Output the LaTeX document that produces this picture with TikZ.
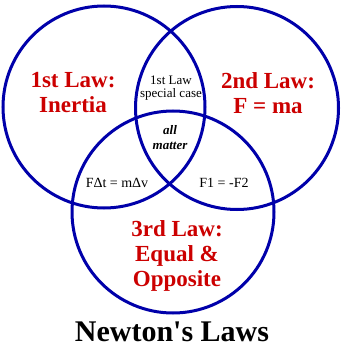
\documentclass[tikz,border=0pt]{standalone}
\usepackage{fontspec}
\setmainfont{Liberation Serif}
\begin{document}
\begin{tikzpicture}[x=1pt,y=-1pt,
  ring/.style={draw={rgb,255:red,0;green,0;blue,170},line width=3pt},
  law/.style={text={rgb,255:red,204;green,0;blue,0},font=\fontsize{23}{25}\selectfont\bfseries,align=center},
  small/.style={font=\fontsize{13}{14.5}\selectfont,align=center},
  eqn/.style={font=\fontsize{14}{16}\selectfont},
  note/.style={font=\fontsize{13}{15}\selectfont\bfseries\itshape,align=center}]
\useasboundingbox (0,0) rectangle (343,350);
\fill[white] (0,0) rectangle (343,350);
\node[ring,circle,minimum size=202pt,inner sep=0pt] (c1) at (104,107) {};
\node[ring,circle,minimum size=203pt,inner sep=0pt] (c2) at (237,108) {};
\node[ring,circle,minimum size=202pt,inner sep=0pt] (c3) at (173,212) {};
\node[law] (l1) at (73,93) {1st Law:\\Inertia};
\node[law] (l2) at (268,93) {2nd Law:\\F = ma};
\node[law] (l3) at (177,256) {3rd Law:\\Equal \&\\Opposite};
\node[small] (s1) at (171,88) {1st Law\\[-1pt]special case};
\node[note] (s2) at (170,138) {all\\matter};
\node[eqn] (s3) at (117,183) {FΔt = mΔv};
\node[eqn] (s4) at (224,183) {F1 = -F2};
\node[font=\fontsize{30}{32}\selectfont\bfseries] (t) at (172,332) {Newton\textquotesingle s Laws};
\end{tikzpicture}
\end{document}
